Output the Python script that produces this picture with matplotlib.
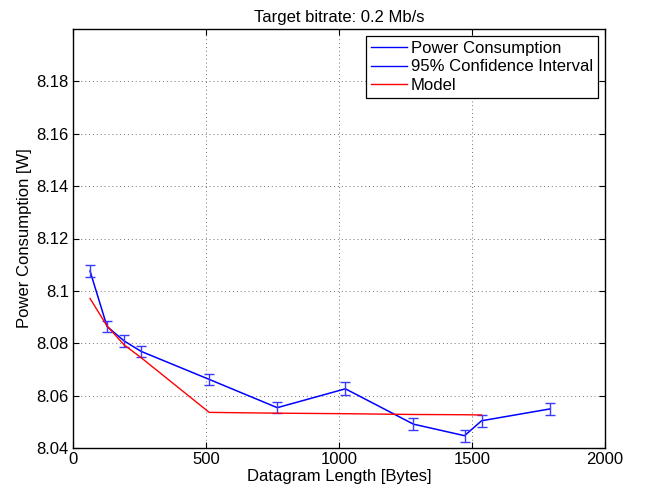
import numpy as np
import matplotlib
matplotlib.use('Agg')
import matplotlib.pyplot as plt
from matplotlib.lines import Line2D


''' Data read off the chart
'''
length = [64, 128, 192, 256, 512, 768, 1024, 1280, 1472, 1536, 1792]  # bytes
power = [8.1076, 8.0864, 8.0809, 8.0769, 8.0662, 8.0554, 8.0626, 8.0491, 8.0447, 8.0504, 8.0549]
ci = [0.0022, 0.0022, 0.0022, 0.0021, 0.0022, 0.0022, 0.0025, 0.0024, 0.0023, 0.0022, 0.0022]

model_len = [64, 128, 192, 256, 512, 768, 1024, 1280, 1472, 1536]
model = [8.0971, 8.0866, 8.0794, 8.0745, 8.0536, 8.0533, 8.0531, 8.0528, 8.0527, 8.0526]

xticks = [0, 500, 1000, 1500, 2000]
yticks = [8.04, 8.06, 8.08, 8.10, 8.12, 8.14, 8.16, 8.18]
ylabels = ['8.04', '8.06', '8.08', '8.1', '8.12', '8.14', '8.16', '8.18']


plt.rcParams['font.family'] = ['Liberation Sans', 'DejaVu Sans']
plt.rcParams['font.size'] = 12

fig = plt.figure(figsize=(6.45, 4.93), dpi=100)
ax = fig.add_axes([73/645, 45/493, 532/645, 419/493])

''' Plot measurements, confidence intervals and model
'''
ax.plot(length, power, color='#0000ff', lw=1.1)
ax.errorbar(length, power, yerr=ci, fmt='none', ecolor='#3a3aff', elinewidth=1.0,
            capsize=3.6, capthick=1.0)
ax.plot(model_len, model, color='#ff0000', lw=1.0)

ax.set_xlim(0, 2000)
ax.set_ylim(8.04, 8.20)
ax.set_xticks(xticks)
ax.set_yticks(yticks)
ax.set_yticklabels(ylabels)
ax.tick_params(direction='in', top=True, right=True, length=4, width=0.8, pad=3)
ax.grid(True, color='0.45', linestyle=(0, (1, 3)), lw=0.7)
for s in ax.spines.values():
    s.set_linewidth(1.0)

ax.set_xlabel('Datagram Length [Bytes]', labelpad=1)
ax.set_ylabel('Power Consumption [W]', labelpad=3)
ax.set_title('Target bitrate: 0.2 Mb/s', fontsize=12, pad=5)

''' Legend, MATLAB style box
'''
h = [Line2D([], [], color='#0000ff', lw=1),
     Line2D([], [], color='#0000ff', lw=1),
     Line2D([], [], color='#ff0000', lw=1)]
leg = ax.legend(h, ['Power Consumption', '95% Confidence Interval', 'Model'],
                loc='upper right', bbox_to_anchor=(0.987, 0.983), fancybox=False,
                edgecolor='black', framealpha=1, handlelength=2.15, handletextpad=0.25,
                borderpad=0.3, labelspacing=0.2, borderaxespad=0)
leg.get_frame().set_linewidth(0.9)

fig.savefig('out.png', dpi=100)
